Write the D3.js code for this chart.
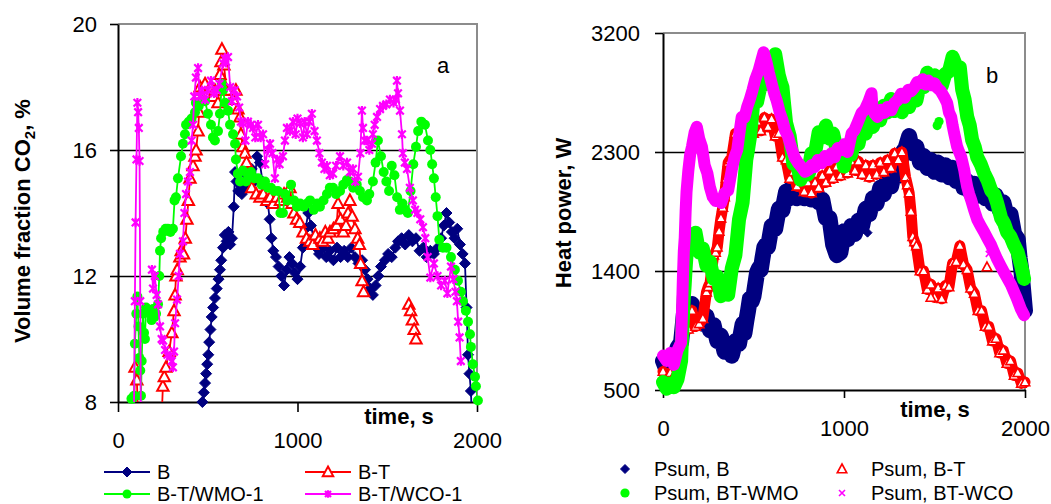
<!DOCTYPE html>
<html>
<head>
<meta charset="utf-8">
<script src="https://cdn.jsdelivr.net/npm/d3@7"></script>
<style>
  body { margin: 0; background: #fff; }
  svg { display: block; }
</style>
</head>
<body>
<svg id="chart" width="1051" height="504"></svg>
<script>
// ---- chart a : volume fraction of CO2 [time s, %] (null = gap in the record)
const co2B = [
  [470,8.0],[478,8.3],[485,8.6],[491,8.9],[497,9.2],[503,9.5],[508,9.9],[515,10.3],[522,10.7],[530,11.0],
  [540,11.3],[550,11.6],[560,11.9],[568,12.2],[575,12.5],[585,12.9],[595,13.3],[605,13.1],[615,13.4],[625,13.0],
  [635,13.2],[645,14.2],[652,15.3],[660,15.0],[670,14.7],[680,14.9],[690,14.6],[700,14.8],[715,15.2],[730,14.9],
  [745,15.4],[760,15.0],[775,15.8],[790,15.6],[805,15.0],[820,14.8],[835,14.3],[845,13.8],[855,13.2],[865,12.8],
  [880,12.6],[895,12.3],[910,12.0],[925,11.7],[940,12.2],[955,12.6],[970,12.4],[985,12.1],[1000,11.9],[1015,12.3],
  [1030,12.9],[1045,13.5],[1060,14.0],[1075,13.6],[1090,13.2],[1105,12.9],[1120,12.7],[1140,12.9],[1160,12.6],[1180,12.8],
  [1200,12.5],[1220,12.9],[1240,12.6],[1260,12.8],[1280,12.6],[1300,12.9],[1320,12.6],[1340,12.4],[1360,12.5],[1376,12.2],
  [1390,11.9],[1405,11.6],[1420,11.4],[1435,11.7],[1450,12.0],[1465,12.3],[1487,12.5],[1505,12.7],[1525,12.6],[1545,12.9],
  [1560,13.1],[1580,13.2],[1600,13.0],[1620,13.3],[1640,13.1],[1660,13.2],[1680,12.8],[1700,12.9],[1720,12.6],[1740,12.8],
  [1760,12.7],[1780,12.9],[1800,13.2],[1815,13.6],[1830,14.0],[1845,13.7],[1860,13.4],[1875,13.2],[1890,13.5],[1905,13.0],
  [1920,12.7],[1933,12.4],[1942,11.0],[1950,9.5],[1958,8.9],[1966,8.35],[1975,7.0]
];
const co2BT = [
  [85,7.0],[95,9.1],[105,8.7],[115,7.0], null,
  [240,7.0],[250,8.5],[258,8.8],[267,9.1],[285,9.6],[300,10.2],[312,10.9],[318,11.4],[323,12.0],[330,12.2],
  [345,12.6],[352,12.8],[365,12.7],[375,13.2],[384,13.8],[392,14.4],[401,15.1],[418,15.5],[429,15.8],[435,16.0],
  [446,16.6],[452,17.2],[457,18.0],[470,17.9],[485,18.1],[500,17.8],[515,18.0],[530,17.7],[540,17.9],[557,17.5],
  [568,18.4],[574,18.8],[579,19.2],[590,18.7],[605,17.9],[624,17.9],[641,17.6],[657,17.9],[668,17.3],[680,17.05],
  [685,16.5],[695,16.1],[707,15.9],[716,15.6],[725,15.1],[745,14.8],[770,14.6],[791,14.5],[810,14.6],[829,14.4],
  [848,14.5],[865,14.3],[885,14.5],[905,14.4],[925,14.6],[945,14.5],[958,14.8],[970,14.3],[980,14.0],[995,13.8],
  [1013,13.7],[1031,13.4],[1050,13.2],[1069,13.1],[1085,13.0],[1100,13.3],[1125,13.2],[1140,13.1],[1155,13.4],[1170,13.2],
  [1181,13.4],[1200,13.5],[1218,13.6],[1226,14.3],[1240,13.8],[1255,13.4],[1270,13.6],[1282,14.0],[1292,14.4],[1305,13.9],
  [1320,13.5],[1335,13.2],[1345,13.0],[1352,12.4],[1360,11.85],[1368,11.5], null,
  [1620,11.1],[1630,10.9],[1640,10.6],[1650,10.3],[1660,10.0]
];
const co2WMO = [
  [75,8.1],[84,8.15],[90,8.2],[94,9.85],[102,10.8],[108,11.35],[114,10.4],[119,9.4],[124,9.0],[128,8.2],
  [132,9.3],[139,10.8],[145,10.2],[150,10.0],[156,11.0],[167,10.9],[178,10.8],[187,10.6],[195,10.95],[203,10.7],
  [212,10.8],[223,11.1],[230,12.0],[234,12.8],[240,13.2],[252,13.4],[265,13.5],[278,13.5],[292,13.4],[306,13.5],
  [315,14.4],[323,14.5],[334,15.1],[351,15.8],[362,16.2],[373,16.5],[379,16.8],[395,16.9],[410,17.0],[429,17.2],
  [434,17.5],[450,17.4],[468,17.6],[485,17.55],[501,17.15],[518,16.8],[529,16.4],[540,16.3],[557,16.6],[568,17.15],
  [578,18.1],[585,17.9],[596,17.5],[613,17.25],[624,16.8],[641,16.5],[652,16.2],[657,15.7],[668,15.25],[680,15.0],
  [696,15.35],[713,15.0],[725,15.2],[741,15.3],[760,15.1],[780,15.1],[800,14.9],[819,15.0],[835,14.8],[852,14.8],
  [870,14.7],[891,14.7],[905,14.0],[919,14.0],[930,14.6],[945,14.4],[964,14.9],[980,14.4],[997,14.2],[1015,14.3],
  [1035,14.2],[1053,14.3],[1070,14.4],[1090,14.1],[1110,14.3],[1125,14.2],[1145,14.4],[1164,14.6],[1180,14.8],[1198,14.8],
  [1215,14.6],[1237,14.7],[1255,14.9],[1275,15.05],[1292,15.0],[1310,14.8],[1330,14.9],[1348,14.7],[1365,14.5],[1387,14.4],
  [1400,14.6],[1420,15.0],[1435,15.6],[1448,16.3],[1465,15.8],[1480,15.3],[1495,15.0],[1510,14.7],[1525,15.5],[1540,15.2],
  [1555,14.5],[1570,14.1],[1585,14.3],[1600,14.1],[1615,14.0],[1630,14.7],[1645,15.55],[1660,16.1],[1672,16.6],[1690,16.9],
  [1710,16.8],[1727,16.3],[1740,16.0],[1750,15.55],[1760,15.1],[1770,14.5],[1780,13.9],[1790,13.15],[1810,12.9],[1830,12.9],
  [1855,12.6],[1877,12.2],[1894,11.85],[1910,11.5],[1922,11.2],[1938,10.9],[1950,10.55],[1961,10.15],[1966,9.75],[1977,9.2],
  [1989,8.8],[1994,8.5],[2005,8.05],[2012,7.0]
];
const co2WCO = [
  [88,7.0],[94,11.2],[98,13.7],[103,15.7],[108,17.5],[112,17.2],[116,16.7],[120,15.65],[124,11.2],[128,7.0], null,
  [189,12.2],[195,11.6],[205,12.0],[215,11.4],[223,11.1],[234,10.4],[243,10.0],[251,9.95],[262,9.65],[275,9.5],
  [290,9.45],[300,9.3],[306,9.1],[312,9.6],[318,10.5],[329,11.25],[338,12.0],[345,12.7],[362,13.1],[370,14.0],
  [379,14.6],[390,15.0],[401,15.3],[410,16.3],[418,16.8],[425,17.7],[434,18.3],[446,18.6],[455,17.7],[468,17.9],
  [485,17.6],[500,17.9],[518,18.2],[535,17.8],[550,17.9],[565,18.1],[585,18.75],[595,18.9],[602,18.8],[613,18.95],
  [625,18.0],[635,17.55],[650,17.9],[663,17.7],[675,17.35],[685,16.9],[696,16.85],[710,16.3],[724,16.9],[740,16.8],
  [752,16.7],[765,16.4],[780,16.8],[795,16.4],[808,16.5],[820,15.55],[835,16.0],[847,16.2],[860,15.9],[874,15.1],
  [886,15.7],[900,15.55],[919,15.8],[930,16.3],[941,16.7],[958,16.6],[975,16.9],[990,16.5],[1000,17.0],[1014,16.85],
  [1030,16.4],[1040,16.9],[1053,16.5],[1066,16.9],[1080,17.15],[1095,16.6],[1108,16.3],[1122,15.9],[1136,15.6],[1150,15.4],
  [1164,15.5],[1180,15.2],[1198,15.25],[1215,15.5],[1237,15.8],[1255,15.5],[1276,15.6],[1292,15.3],[1309,15.4],[1322,15.0],
  [1337,15.15],[1350,15.9],[1359,17.25],[1365,16.7],[1375,16.3],[1387,16.3],[1400,16.0],[1415,16.2],[1420,16.5],[1430,16.8],
  [1443,17.05],[1460,17.3],[1476,17.4],[1495,17.45],[1515,17.6],[1535,17.5],[1548,17.6],[1554,18.2],[1560,17.8],[1571,17.25],
  [1582,16.5],[1587,15.9],[1598,15.6],[1610,15.4],[1626,14.8],[1643,14.4],[1655,14.1],[1668,14.0],[1684,13.8],[1699,13.55],
  [1712,13.2],[1725,12.6],[1740,11.95],[1760,12.4],[1780,12.0],[1800,11.7],[1821,11.85],[1835,11.45],[1855,12.3],[1868,11.9],
  [1880,11.5],[1888,11.2],[1895,10.55],[1903,10.05],[1910,9.3]
];

// ---- chart b : summed heat power [time s, W]
const powB = [
  [0,720],[20,650],[40,740],[60,680],[80,820],[100,860],[110,1000],[120,1140],[140,1100],[160,1150],
  [180,1040],[200,1100],[220,1000],[240,1060],[260,950],[280,990],[300,870],[320,910],[340,790],[360,820],
  [380,760],[400,870],[420,850],[440,1000],[450,930],[460,1020],[470,1100],[480,1190],[490,1170],[500,1210],
  [510,1300],[520,1390],[530,1420],[540,1410],[550,1500],[560,1580],[570,1600],[580,1580],[600,1740],[620,1720],
  [640,1870],[660,1860],[680,2000],[700,1950],[720,2080],[740,1950],[760,2040],[780,1950],[800,2050],[820,1940],
  [840,2040],[860,1920],[880,1940],[900,1800],[920,1800],[940,1600],[960,1520],[980,1540],[1000,1700],[1020,1640],
  [1040,1740],[1060,1680],[1080,1780],[1100,1740],[1120,1870],[1140,1830],[1160,1950],[1180,1910],[1200,2030],[1220,1980],
  [1240,2100],[1260,2040],[1280,2160],[1300,2120],[1320,2290],[1340,2330],[1360,2420],[1380,2290],[1400,2340],[1420,2220],
  [1440,2270],[1460,2180],[1480,2240],[1500,2150],[1520,2220],[1540,2130],[1560,2200],[1580,2110],[1600,2180],[1620,2080],
  [1640,2140],[1660,2030],[1680,2080],[1700,1990],[1720,2060],[1740,1970],[1760,2040],[1780,1950],[1800,2020],[1820,1910],
  [1840,1970],[1860,1860],[1880,1920],[1900,1810],[1920,1830],[1940,1680],[1960,1640],[1970,1500],[1980,1400],[1990,1250],
  [2000,1100]
];
const powBstray = [[1130,1690]];
const powBT = [
  [0,640],[20,590],[40,630],[60,610],[80,740],[100,780],[120,990],[140,960],[160,1100],[180,980],
  [200,1000],[220,1040],[240,1240],[250,1280],[260,1310],[270,1420],[280,1520],[290,1540],[300,1580],[310,1700],
  [320,1800],[330,1880],[340,1960],[350,2100],[360,2220],[370,2240],[380,2260],[400,2440],[420,2400],[440,2470],
  [460,2420],[480,2510],[500,2440],[520,2530],[540,2460],[560,2560],[580,2490],[600,2550],[620,2420],[640,2440],
  [660,2260],[680,2240],[700,2100],[720,2150],[740,2040],[760,2090],[780,2000],[800,2070],[820,1990],[840,2070],
  [860,2030],[880,2120],[900,2070],[920,2160],[940,2100],[960,2190],[980,2120],[1000,2210],[1020,2140],[1040,2230],
  [1060,2160],[1080,2230],[1100,2130],[1120,2200],[1140,2110],[1160,2200],[1180,2130],[1200,2220],[1220,2150],[1240,2240],
  [1260,2180],[1280,2290],[1300,2240],[1320,2300],[1340,2110],[1350,2050],[1360,1990],[1370,1850],[1380,1660],[1390,1620],
  [1400,1590],[1420,1400],[1440,1400],[1460,1260],[1480,1300],[1500,1200],[1520,1270],[1540,1190],[1560,1290],[1580,1280],
  [1600,1460],[1620,1470],[1640,1590],[1660,1450],[1680,1410],[1700,1270],[1720,1230],[1740,1100],[1760,1100],[1780,980],
  [1800,980],[1820,870],[1840,890],[1860,780],[1880,800],[1900,700],[1920,720],[1940,610],[1960,630],
  [1980,550],[2000,560]
];
const powBTstray = [[1790,1430],[1480,1200]];
const powWMO = [
  [0,560],[20,510],[40,550],[60,520],[80,580],[100,720],[105,900],[110,1050],[115,1200],[120,1300],
  [125,1420],[130,1520],[140,1640],[160,1640],[180,1690],[200,1540],[220,1570],[240,1440],[260,1470],[280,1340],
  [300,1360],[320,1210],[340,1240],[360,1220],[380,1420],[400,1520],[420,1790],[440,1920],[450,2080],[460,2240],
  [470,2320],[480,2410],[490,2550],[500,2690],[520,2680],[540,2810],[560,2810],[580,2970],[600,2950],[620,3040],
  [640,2880],[650,2830],[660,2790],[670,2650],[680,2520],[690,2470],[700,2420],[720,2210],[740,2210],[760,2090],
  [780,2170],[800,2130],[820,2290],[840,2290],[860,2450],[880,2410],[900,2500],[920,2400],[940,2440],[960,2310],
  [980,2320],[1000,2190],[1020,2320],[1040,2280],[1060,2400],[1080,2360],[1100,2490],[1120,2440],[1140,2550],[1160,2490],
  [1180,2590],[1200,2540],[1220,2650],[1240,2600],[1260,2700],[1280,2610],[1300,2680],[1320,2600],[1340,2700],[1360,2640],
  [1380,2740],[1400,2690],[1420,2820],[1440,2790],[1460,2900],[1480,2840],[1500,2880],[1520,2860],[1540,2800],[1560,2890],
  [1580,2910],[1600,3020],[1620,2950],[1640,2940],[1653,2770],[1666,2700],[1681,2565],[1695,2500],[1708,2390],[1722,2340],
  [1736,2260],[1755,2210],[1774,2140],[1795,2080],[1813,2010],[1830,1980],[1846,1915],[1868,1800],[1885,1760],[1901,1695],
  [1920,1660],[1940,1595],[1960,1540],[1978,1445],[1995,1340]
];
const powWMOstray = [[1515,2500],[1525,2530],[820,2140]];
const powWCO = [
  [0,760],[20,720],[40,780],[60,690],[80,800],[100,860],[105,1100],[110,1350],[115,1550],[120,1650],
  [125,1850],[130,2000],[140,2160],[150,2280],[160,2340],[175,2450],[187,2490],[200,2400],[215,2340],[230,2200],
  [245,2140],[259,2035],[275,1960],[290,1930],[309,1935],[322,1915],[340,1990],[360,2010],[380,2165],[395,2260],
  [410,2315],[425,2470],[435,2565],[450,2560],[465,2640],[480,2700],[495,2770],[510,2850],[529,2920],[545,3000],
  [556,3055],[570,2990],[585,2900],[600,2820],[615,2740],[628,2690],[645,2600],[660,2540],[675,2460],[690,2420],
  [705,2350],[727,2260],[745,2220],[766,2185],[785,2150],[804,2165],[820,2200],[837,2185],[855,2240],[876,2215],
  [895,2270],[915,2240],[930,2290],[948,2260],[965,2330],[986,2315],[1003,2360],[1020,2300],[1042,2440],[1058,2465],
  [1075,2520],[1097,2595],[1115,2620],[1135,2680],[1152,2745],[1157,2640],[1170,2590],[1185,2565],[1205,2620],[1223,2595],
  [1240,2640],[1262,2615],[1278,2670],[1295,2690],[1315,2740],[1335,2710],[1355,2770],[1372,2760],[1389,2790],[1405,2830],
  [1416,2820],[1435,2850],[1450,2810],[1466,2840],[1482,2805],[1500,2820],[1515,2785],[1535,2760],[1554,2715],[1570,2670],
  [1580,2600],[1592,2565],[1600,2500],[1609,2440],[1625,2340],[1636,2300],[1648,2260],[1664,2165],[1672,2100],[1681,2035],
  [1692,1980],[1703,1935],[1719,1860],[1736,1790],[1755,1740],[1774,1695],[1795,1640],[1813,1595],[1830,1540],[1846,1490],
  [1865,1440],[1884,1390],[1905,1340],[1923,1295],[1940,1240],[1956,1190],[1978,1110],[1995,1065]
];
const powWCOstray = [[1800,1530]];

// axis ticks
const xTicks = [0, 1000, 2000];
const co2Ticks = [8, 12, 16, 20];
const co2Grid = [12, 16];
const powTicks = [500, 1400, 2300, 3200];
const powGrid = [1400, 2300];

const FONT = '"Liberation Sans", Arial, Helvetica, sans-serif';
const svg = d3.select("#chart").attr("font-family", FONT);

// marker shapes (Excel-like)
const shapes = {
  diamond: r => `M0,${-r}L${r},0L0,${r}L${-r},0Z`,
  triangle: r => `M0,${-r}L${r * 0.95},${r * 0.75}L${-r * 0.95},${r * 0.75}Z`,
  star: r => `M${-r},${-r}L${r},${r}M${r},${-r}L${-r},${r}M0,${-r * 1.25}L0,${r * 1.25}`,
  cross: r => `M${-r},${-r}L${r},${r}M${r},${-r}L${-r},${r}`
};

function drawMarkers(g, pts, x, y, s) {
  if (s.type === "circle") {
    g.selectAll(null).data(pts).join("circle")
      .attr("cx", d => x(d[0])).attr("cy", d => y(d[1]))
      .attr("r", s.r).attr("fill", s.color);
  } else {
    g.selectAll(null).data(pts).join("path")
      .attr("transform", d => `translate(${x(d[0])},${y(d[1])})`)
      .attr("d", shapes[s.type](s.r))
      .attr("fill", s.type === "diamond" ? s.color : s.type === "triangle" ? "#fff" : "none")
      .attr("stroke", s.color)
      .attr("stroke-width", s.sw);
  }
}

// shared frame: grid, grey top/right border, black axes with ticks
function drawFrame(x, y, o) {
  const [x0, x1] = x.range();
  const [y0, y1] = y.range();
  const g = svg.append("g");

  g.selectAll(null).data(o.grid).join("line")
    .attr("x1", x0).attr("x2", x1)
    .attr("y1", d => Math.round(y(d)) + 0.5).attr("y2", d => Math.round(y(d)) + 0.5)
    .attr("stroke", "#000").attr("stroke-width", 1.6);

  g.append("path")
    .attr("d", `M${x0},${y1}H${x1}V${y0}`)
    .attr("fill", "none").attr("stroke", "#8c8c8c").attr("stroke-width", 2);

  const style = a => {
    a.select(".domain").attr("stroke", "#000").attr("stroke-width", 2);
    a.selectAll(".tick line").attr("stroke", "#000").attr("stroke-width", 1.6);
    a.selectAll(".tick text").attr("font-size", 22).attr("font-family", FONT).attr("fill", "#000");
  };

  svg.append("g")
    .attr("transform", `translate(${x0},0)`)
    .call(d3.axisLeft(y).tickValues(o.yTicks).tickSize(8).tickSizeOuter(0).tickPadding(o.yPad).tickFormat(d3.format("d")))
    .call(style);

  svg.append("g")
    .attr("transform", `translate(0,${y0})`)
    .call(d3.axisBottom(x).tickValues(xTicks).tickSize(o.xTick).tickSizeOuter(0).tickPadding(o.xPad).tickFormat(d3.format("d")))
    .call(style);
}

// ================= chart a =================
const xA = d3.scaleLinear().domain([0, 2000]).range([118, 477]);
const yA = d3.scaleLinear().domain([8, 20]).range([402, 24]);

drawFrame(xA, yA, { grid: co2Grid, yTicks: co2Ticks, yPad: 13, xTick: 10, xPad: 20 });

svg.append("clipPath").attr("id", "clipA")
  .append("rect").attr("x", 118).attr("y", 24).attr("width", 359).attr("height", 378);

const seriesA = [
  { data: co2B,   label: "B",         spec: { type: "diamond",  r: 5.5, color: "#000080", sw: 1 } },
  { data: co2BT,  label: "B-T",       spec: { type: "triangle", r: 6,   color: "#ff0000", sw: 2 } },
  { data: co2WMO, label: "B-T/WMO-1", spec: { type: "circle",   r: 5,   color: "#00ff00", sw: 1 } },
  { data: co2WCO, label: "B-T/WCO-1", spec: { type: "star",     r: 3.8, color: "#ff00ff", sw: 2.2 } }
];

const lineA = d3.line()
  .defined(d => d !== null)
  .x(d => xA(d[0]))
  .y(d => yA(d[1]));

seriesA.forEach(s => {
  const g = svg.append("g");
  g.append("path")
    .attr("d", lineA(s.data))
    .attr("clip-path", "url(#clipA)")
    .attr("fill", "none").attr("stroke", s.spec.color).attr("stroke-width", 1.8);
  drawMarkers(g, s.data.filter(d => d && d[1] >= 8 && d[1] <= 20), xA, yA, s.spec);
});

svg.append("text").attr("x", 443).attr("y", 73).attr("text-anchor", "middle")
  .attr("font-size", 22).text("a");

svg.append("text").attr("x", 399).attr("y", 424).attr("text-anchor", "middle")
  .attr("font-size", 22).attr("font-weight", "bold").text("time, s");

const yTitleA = svg.append("text")
  .attr("transform", "translate(30,221) rotate(-90)")
  .attr("text-anchor", "middle")
  .attr("font-size", 22).attr("font-weight", "bold");
yTitleA.append("tspan").text("Volume fraction CO");
yTitleA.append("tspan").attr("font-size", 15).attr("dy", 5).text("2");
yTitleA.append("tspan").attr("dy", -5).text(", %");

// legend a: line + marker
const legA = [[104, 472], [305, 472], [104, 494], [305, 494]];
seriesA.forEach((s, i) => {
  const [lx, ly] = legA[i];
  const g = svg.append("g");
  g.append("line").attr("x1", lx).attr("x2", lx + 46).attr("y1", ly).attr("y2", ly)
    .attr("stroke", s.spec.color).attr("stroke-width", 2);
  const spec = Object.assign({}, s.spec, { r: s.spec.type === "star" ? 3 : s.spec.r - 0.5 });
  drawMarkers(g, [[0, 0]], () => lx + 23, () => ly, spec);
  g.append("text").attr("x", lx + 53).attr("y", ly).attr("dy", "0.35em")
    .attr("font-size", 20).text(s.label);
});

// ================= chart b =================
const xB = d3.scaleLinear().domain([0, 2000]).range([663, 1025]);
const yB = d3.scaleLinear().domain([500, 3200]).range([390, 33]);

drawFrame(xB, yB, { grid: powGrid, yTicks: powTicks, yPad: 15, xTick: 8, xPad: 22 });

// the logged points are so dense that they merge into a band:
// a wide stroke under the markers stands in for the overlap
const seriesB = [
  { data: powB,   stray: powBstray,   label: "Psum, B",      band: 16, spec: { type: "diamond",  r: 4.5, color: "#000080", sw: 1 } },
  { data: powBT,  stray: powBTstray,  label: "Psum, B-T",    band: 11, spec: { type: "triangle", r: 5,   color: "#ff0000", sw: 1.6 } },
  { data: powWMO, stray: powWMOstray, label: "Psum, BT-WMO", band: 14, spec: { type: "circle",   r: 4.6, color: "#00ff00", sw: 1 } },
  { data: powWCO, stray: powWCOstray, label: "Psum, BT-WCO", band: 12, spec: { type: "cross",    r: 3,   color: "#ff00ff", sw: 1.6 } }
];

const lineB = d3.line().x(d => xB(d[0])).y(d => yB(d[1]));

seriesB.forEach(s => {
  const g = svg.append("g");
  g.append("path")
    .attr("d", lineB(s.data))
    .attr("fill", "none").attr("stroke", s.spec.color)
    .attr("stroke-width", s.band).attr("stroke-linejoin", "round").attr("stroke-linecap", "round");
  drawMarkers(g, s.data.concat(s.stray), xB, yB, s.spec);
});

svg.append("text").attr("x", 992).attr("y", 83).attr("text-anchor", "middle")
  .attr("font-size", 22).text("b");

svg.append("text").attr("x", 935).attr("y", 417).attr("text-anchor", "middle")
  .attr("font-size", 22).attr("font-weight", "bold").text("time, s");

svg.append("text")
  .attr("transform", "translate(571,213) rotate(-90)")
  .attr("text-anchor", "middle")
  .attr("font-size", 22).attr("font-weight", "bold")
  .text("Heat power, W");

// legend b: markers only
const legB = [[625, 469], [842, 469], [625, 493], [842, 493]];
seriesB.forEach((s, i) => {
  const [lx, ly] = legB[i];
  const g = svg.append("g");
  drawMarkers(g, [[0, 0]], () => lx, () => ly, s.spec);
  g.append("text").attr("x", lx + 29).attr("y", ly).attr("dy", "0.35em")
    .attr("font-size", 20).text(s.label);
});
</script>
</body>
</html>
